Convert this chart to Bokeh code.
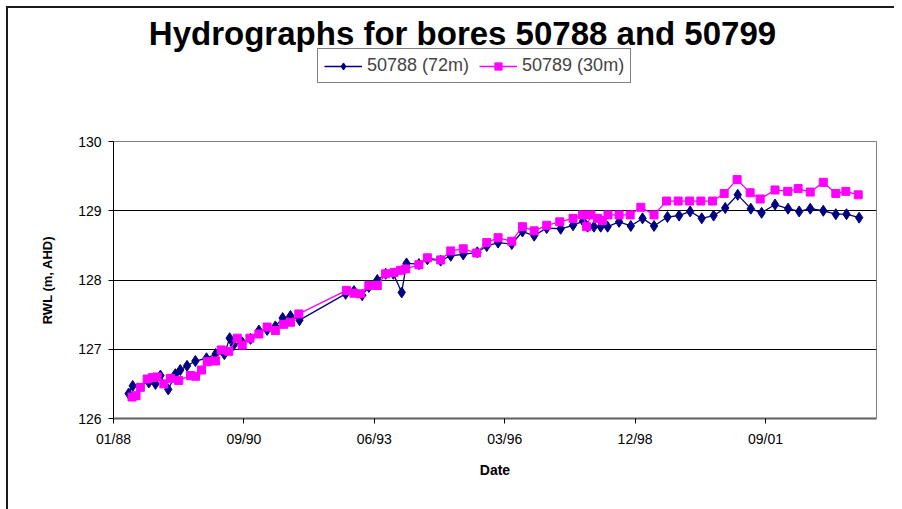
import pandas as pd
from bokeh.plotting import figure
from bokeh.layouts import column
from bokeh.models import Range1d, FixedTicker, Label, Legend, LegendItem
from bokeh.embed import file_html
from bokeh.resources import INLINE

# ---------------- data ----------------
dates_50788 = [
    "1988-04-26", "1988-05-27", "1988-09-28", "1988-11-18", "1988-12-26", "1989-02-24",
    "1989-04-19", "1989-05-27", "1989-07-18", "1989-09-20", "1989-12-14", "1990-02-22",
    "1990-04-30", "1990-06-10", "1990-07-10", "1990-09-14", "1990-11-17", "1991-01-20",
    "1991-03-24", "1991-05-26", "1991-07-21", "1991-09-19", "1991-11-27", "1992-11-15",
    "1993-01-18", "1993-03-22", "1993-05-12", "1993-07-16", "1993-09-18", "1993-11-16",
    "1994-01-19", "1994-02-25", "1994-05-31", "1994-08-04", "1994-11-14", "1995-01-30",
    "1995-05-06", "1995-08-22", "1995-11-02", "1996-01-28", "1996-05-12", "1996-08-02",
    "1996-10-31", "1997-02-04", "1997-05-22", "1997-08-25", "1997-11-10", "1997-12-14",
    "1998-02-01", "1998-03-25", "1998-05-17", "1998-08-13", "1998-11-11", "1999-02-09",
    "1999-05-08", "1999-08-19", "1999-11-16", "2000-02-09", "2000-05-08", "2000-08-07",
    "2000-11-04", "2001-02-08", "2001-05-19", "2001-08-10", "2001-11-21", "2002-03-01",
    "2002-05-25", "2002-08-18", "2002-11-26", "2003-03-02", "2003-05-23", "2003-08-28",
]
rwl_50788 = [
    126.36, 126.47, 126.52, 126.50, 126.62, 126.42,
    126.64, 126.70, 126.76, 126.83, 126.87, 126.93,
    126.93, 127.16, 127.06, 127.10, 127.15, 127.27,
    127.28, 127.33, 127.45, 127.48, 127.42, 127.80,
    127.84, 127.78, 127.90, 128.00, 128.09, 128.09,
    127.82, 128.24, 128.23, 128.30, 128.28, 128.35,
    128.37, 128.40, 128.49, 128.54, 128.52, 128.70,
    128.64, 128.75, 128.74, 128.79, 128.85, 128.77,
    128.77, 128.77, 128.77, 128.84, 128.78, 128.89,
    128.78, 128.91, 128.93, 128.99, 128.89, 128.93,
    129.04, 129.23, 129.03, 128.97, 129.09, 129.03,
    128.99, 129.03, 129.00, 128.95, 128.95, 128.90,
]

dates_50789 = [
    "1988-05-22", "1988-06-22", "1988-07-25", "1988-09-15", "1988-10-24", "1988-12-01",
    "1989-01-21", "1989-03-12", "1989-05-15", "1989-08-13", "1989-09-21", "1989-11-06",
    "1989-12-20", "1990-02-22", "1990-04-06", "1990-06-03", "1990-08-07", "1990-09-14",
    "1990-11-12", "1991-01-20", "1991-03-24", "1991-05-26", "1991-07-29", "1991-09-19",
    "1991-11-22", "1992-11-21", "1993-01-18", "1993-03-09", "1993-05-12", "1993-07-16",
    "1993-09-18", "1993-11-21", "1994-01-11", "1994-02-19", "1994-05-31", "1994-08-04",
    "1994-11-14", "1995-01-30", "1995-05-06", "1995-08-17", "1995-11-02", "1996-01-28",
    "1996-05-12", "1996-08-02", "1996-10-31", "1997-02-04", "1997-05-15", "1997-08-25",
    "1997-11-06", "1997-12-07", "1998-01-09", "1998-03-01", "1998-04-07", "1998-05-20",
    "1998-08-13", "1998-11-06", "1999-01-27", "1999-05-08", "1999-08-12", "1999-11-09",
    "2000-02-05", "2000-05-01", "2000-07-30", "2000-10-27", "2001-02-03", "2001-05-14",
    "2001-07-30", "2001-11-21", "2002-02-26", "2002-05-17", "2002-08-18", "2002-11-26",
    "2003-03-02", "2003-05-18", "2003-08-21",
]
rwl_50789 = [
    126.31, 126.33, 126.45, 126.57, 126.59, 126.60,
    126.50, 126.58, 126.55, 126.62, 126.61, 126.70,
    126.82, 126.83, 126.99, 126.97, 127.16, 127.06,
    127.16, 127.22, 127.32, 127.27, 127.36, 127.39,
    127.51, 127.85, 127.81, 127.80, 127.92, 127.92,
    128.09, 128.11, 128.14, 128.16, 128.22, 128.32,
    128.29, 128.42, 128.45, 128.39, 128.54, 128.61,
    128.56, 128.77, 128.71, 128.79, 128.84, 128.89,
    128.94, 128.77, 128.94, 128.89, 128.86, 128.94,
    128.94, 128.94, 129.05, 128.94, 129.14, 129.14,
    129.14, 129.14, 129.14, 129.25, 129.45, 129.26,
    129.17, 129.30, 129.28, 129.32, 129.27, 129.41,
    129.25, 129.28, 129.23,
]

series_labels = ["50788 (72m)", "50789 (30m)"]
title_text = "Hydrographs for bores 50788 and 50799"
x_tick_labels = ["01/88", "09/90", "06/93", "03/96", "12/98", "09/01"]
y_ticks = [126, 127, 128, 129, 130]

# ---------------- styles ----------------
FONT = "Liberation Sans"
NAVY = "#000080"
MAGENTA = "#FF00FF"
W = 886
TOP_H = 118
MAIN_H = 383
LEFT_B = 105
RIGHT_B = 18

origin = pd.Timestamp("1988-01-01")
x_end = origin + pd.Timedelta(days=5851)
tick_ts = [origin + pd.Timedelta(days=1000 * k) for k in range(len(x_tick_labels))]
tick_ms = [t.value / 1e6 for t in tick_ts]

x1 = pd.to_datetime(dates_50788)
x2 = pd.to_datetime(dates_50789)

# ---------------- header (title + legend) ----------------
top = figure(
    width=W, height=TOP_H, output_backend="svg", toolbar_location=None,
    x_range=Range1d(LEFT_B, W - RIGHT_B), y_range=Range1d(0, TOP_H),
    min_border_left=LEFT_B, min_border_right=RIGHT_B,
    min_border_top=0, min_border_bottom=0,
    outline_line_color=None,
)
top.axis.visible = False
top.grid.visible = False

# legend renderers use the real series (they fall outside this header's ranges)
t1 = top.line(x1, rwl_50788, line_color=NAVY, line_width=1.3)
t2 = top.scatter(x1, rwl_50788, marker="diamond", size=11, fill_color=NAVY, line_color=NAVY)
t3 = top.line(x2, rwl_50789, line_color=MAGENTA, line_width=1.3)
t4 = top.scatter(x2, rwl_50789, marker="square", size=8, fill_color=MAGENTA, line_color=MAGENTA)

legend = Legend(
    items=[LegendItem(label=series_labels[0], renderers=[t1, t2]),
           LegendItem(label=series_labels[1], renderers=[t3, t4])],
    orientation="horizontal",
    location=(204, 43),
    label_text_font=FONT, label_text_font_size="18px",
    glyph_width=38, glyph_height=18,
    label_standoff=5, spacing=10, padding=6, margin=0,
    border_line_color="black", border_line_width=1,
    background_fill_alpha=1.0,
)
top.add_layout(legend, "center")

top.add_layout(Label(
    x=454, y=93, text=title_text,
    text_font=FONT, text_font_style="bold", text_font_size="33px",
    text_align="center", text_baseline="middle", text_color="black",
))

# ---------------- main plot ----------------
p = figure(
    width=W, height=MAIN_H,
    output_backend="svg", toolbar_location=None,
    x_axis_type="datetime",
    x_range=Range1d(origin, x_end),
    y_range=Range1d(126, 130),
    min_border_left=LEFT_B, min_border_right=RIGHT_B,
    min_border_top=15, min_border_bottom=91,
    background_fill_color="white", border_fill_color="white",
)
p.outline_line_color = "#808080"
p.outline_line_width = 1

p.xaxis.ticker = FixedTicker(ticks=tick_ms)
p.xaxis.major_label_overrides = {m: lab for m, lab in zip(tick_ms, x_tick_labels)}
p.yaxis.ticker = FixedTicker(ticks=y_ticks)
for ax in (p.xaxis[0], p.yaxis[0]):
    ax.major_label_text_font = FONT
    ax.major_label_text_font_size = "14px"
    ax.major_label_text_color = "black"
    ax.axis_label_text_font = FONT
    ax.axis_label_text_font_style = "bold"
    ax.axis_label_text_color = "black"
    ax.minor_tick_line_color = None
    ax.major_tick_in = 0
    ax.major_tick_out = 5
    ax.major_tick_line_color = "black"
p.xaxis.axis_label = "Date"
p.xaxis.axis_label_text_font_size = "14px"
p.xaxis.axis_line_color = "#606060"
p.xaxis.axis_line_width = 2
p.xaxis.major_label_standoff = 7
p.xaxis.axis_label_standoff = 12
p.yaxis.axis_label = "RWL (m, AHD)"
p.yaxis.axis_label_text_font_size = "13px"
p.yaxis.axis_line_color = "black"
p.yaxis.major_label_standoff = 7
p.yaxis.axis_label_standoff = 20

p.xgrid.grid_line_color = None
p.ygrid.ticker = FixedTicker(ticks=[127, 128, 129])
p.ygrid.grid_line_color = "black"
p.ygrid.grid_line_width = 1

p.line(x1, rwl_50788, line_color=NAVY, line_width=1.3)
p.scatter(x1, rwl_50788, marker="diamond", size=11, fill_color=NAVY, line_color=NAVY)
p.line(x2, rwl_50789, line_color=MAGENTA, line_width=1.3)
p.scatter(x2, rwl_50789, marker="square", size=8, fill_color=MAGENTA, line_color=MAGENTA)

layout = column(top, p, spacing=0,
                styles={"border-left": "2px solid #1a1a1a", "border-top": "2px solid #1a1a1a",
                        "margin-left": "6px", "margin-top": "6px"})

open("out.html", "w").write(file_html(layout, INLINE))
